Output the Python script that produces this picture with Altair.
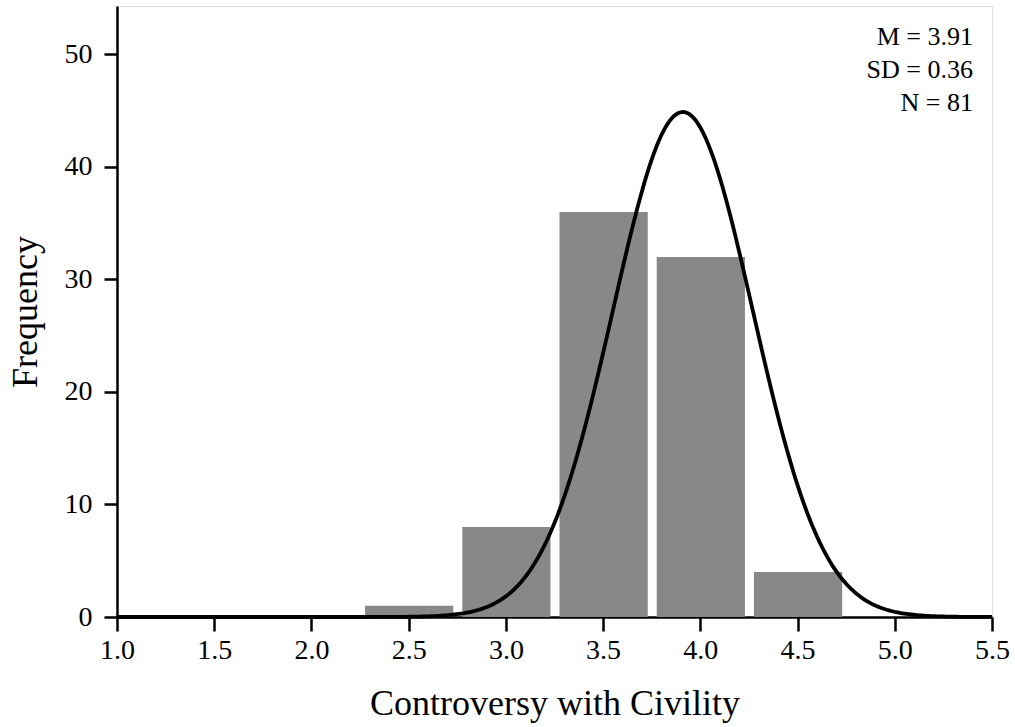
import altair as alt
import numpy as np
import pandas as pd

# Histogram of "Controversy with Civility" scores (bin width 0.5)
bin_centers = [2.5, 3.0, 3.5, 4.0, 4.5]
counts = [1, 8, 36, 32, 4]
bin_width = 0.5

# Summary statistics shown in the corner
mean_val = 3.91
sd_val = 0.36
n_obs = 81
stat_lines = ["M = 3.91", "SD = 0.36", "N = 81"]

FONT = "Liberation Serif"

bars_df = pd.DataFrame({
    "start": [c - bin_width / 2 for c in bin_centers],
    "end": [c + bin_width / 2 for c in bin_centers],
    "count": counts,
})

# Fitted normal curve scaled to counts
xs = np.linspace(1.0, 5.5, 400)
dens = n_obs * bin_width / (sd_val * np.sqrt(2 * np.pi)) * np.exp(-0.5 * ((xs - mean_val) / sd_val) ** 2)
curve_df = pd.DataFrame({"x": xs, "y": dens})

x_scale = alt.Scale(domain=[1.0, 5.5], nice=False, zero=False)
y_scale = alt.Scale(domain=[0, 54.3], nice=False)

x_axis = alt.Axis(
    title="Controversy with Civility",
    values=[1.0, 1.5, 2.0, 2.5, 3.0, 3.5, 4.0, 4.5, 5.0, 5.5],
    format=".1f",
    grid=False, labelFlush=False,
    labelFont=FONT, labelFontSize=28, labelColor="black", labelPadding=5,
    titleFont=FONT, titleFontSize=36, titleFontWeight="normal", titleColor="black",
    titlePadding=22,
    domainColor="black", domainWidth=2.5,
    tickColor="black", tickWidth=2.5, tickSize=14,
)
y_axis = alt.Axis(
    title="Frequency",
    values=[0, 10, 20, 30, 40, 50],
    grid=False, labelFlush=False,
    labelFont=FONT, labelFontSize=28, labelColor="black", labelPadding=12,
    titleFont=FONT, titleFontSize=36, titleFontWeight="normal", titleColor="black",
    titlePadding=20,
    domainColor="black", domainWidth=2.5,
    tickColor="black", tickWidth=2.5, tickSize=13,
)

bars = alt.Chart(bars_df).mark_bar(color="#888888", binSpacing=9).encode(
    x=alt.X("start:Q", bin="binned", scale=x_scale, axis=x_axis),
    x2="end:Q",
    y=alt.Y("count:Q", scale=y_scale, axis=y_axis),
)

curve = alt.Chart(curve_df).mark_line(color="black", strokeWidth=3.8).encode(
    x=alt.X("x:Q", scale=x_scale),
    y=alt.Y("y:Q", scale=y_scale),
)

# Corner annotation, one right-aligned line per statistic
stat_layers = []
for i, line in enumerate(stat_lines):
    stat_layers.append(
        alt.Chart(pd.DataFrame({"label": [line]})).mark_text(
            font=FONT, fontSize=26, align="right", baseline="middle", color="black"
        ).encode(
            x=alt.value(856),
            y=alt.value(31 + 33 * i),
            text="label:N",
        )
    )

chart = alt.layer(bars, curve, *stat_layers).properties(
    width=875,
    height=611,
    autosize=alt.AutoSizeParams(type="none"),
    padding={"left": 117, "top": 6, "right": 23, "bottom": 110},
).configure_view(stroke=None).configure(background="white")

chart.save("out.html", embed_options={"renderer": "svg", "actions": False})
